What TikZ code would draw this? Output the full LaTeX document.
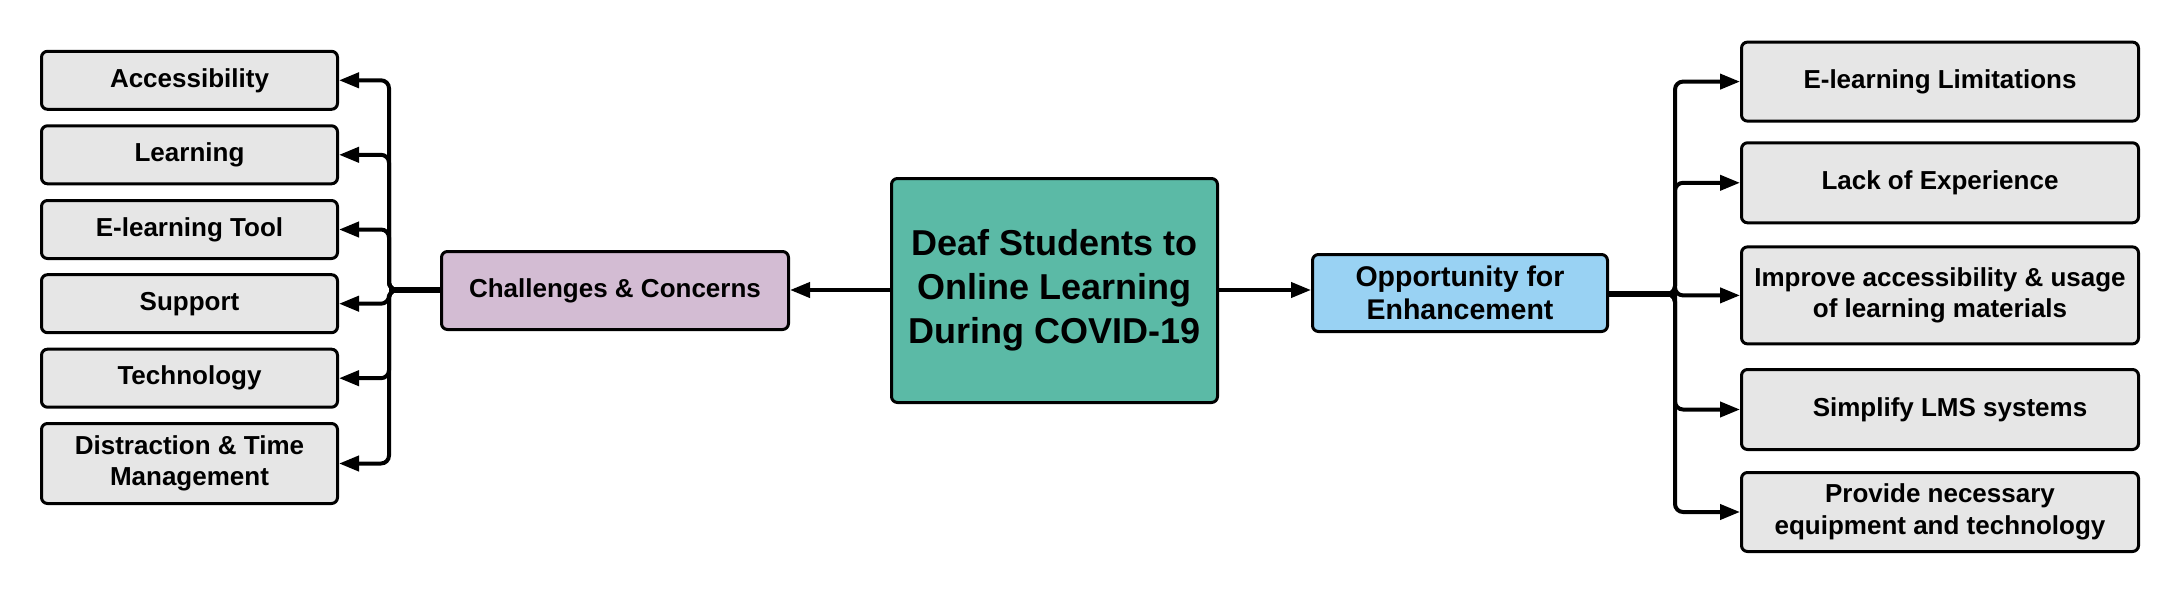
\documentclass[tikz,border=0pt]{standalone}
\usepackage{fontspec}
\setmainfont{Liberation Sans}
\usetikzlibrary{arrows.meta}
\definecolor{boxgray}{RGB}{230,230,230}
\definecolor{lilac}{RGB}{211,188,211}
\definecolor{teal}{RGB}{91,186,166}
\definecolor{skyb}{RGB}{153,210,243}
\begin{document}
\begin{tikzpicture}[x=1pt,y=-1pt,
  box/.style={draw=black, line width=3pt, rounded corners=6pt, fill=boxgray, align=center,
    inner sep=0pt, font=\fontsize{26}{31.5}\selectfont\bfseries},
  conn/.style={line width=4pt, rounded corners=8pt, -{Triangle[length=20pt,width=15pt]}},
  stub/.style={line width=5.5pt}
]
\useasboundingbox (0,0) rectangle (2181,599);
% left boxes
\node[box, minimum width=296pt, minimum height=58pt] (acc) at (189.5,80.3) {Accessibility};
\node[box, minimum width=296pt, minimum height=58pt] (lea) at (189.5,154.8) {Learning};
\node[box, minimum width=296pt, minimum height=58pt] (elt) at (189.5,229.5) {E-learning Tool};
\node[box, minimum width=296pt, minimum height=58pt] (sup) at (189.5,303.7) {Support};
\node[box, minimum width=296pt, minimum height=58pt] (tec) at (189.5,378.2) {Technology};
\node[box, minimum width=296pt, minimum height=80pt] (dis) at (189.5,463.5) {Distraction \& Time\\Management};
% middle
\node[box, fill=lilac, minimum width=347pt, minimum height=78pt] (chal) at (615,290.5) {Challenges \& Concerns};
\node[box, fill=teal, minimum width=326pt, minimum height=224pt, font=\fontsize{36}{44}\selectfont\bfseries] (cen) at (1054.5,290.5) {Deaf Students to\\Online Learning\\During COVID-19};
\node[box, fill=skyb, minimum width=295pt, minimum height=77pt, font=\fontsize{28.5}{33}\selectfont\bfseries] (opp) at (1460,293) {Opportunity for\\Enhancement};
% right boxes
\node[box, minimum width=397pt, minimum height=79pt] (lim) at (1940,81.6) {E-learning Limitations};
\node[box, minimum width=397pt, minimum height=80pt] (lack) at (1940,182.8) {Lack of Experience};
\node[box, minimum width=397pt, minimum height=97pt] (imp) at (1940,295.4) {Improve accessibility \& usage\\of learning materials};
\node[box, minimum width=397pt, minimum height=80pt] (sim) at (1940,409.5) {\hspace*{20pt}Simplify LMS systems};
\node[box, minimum width=397pt, minimum height=79pt] (pro) at (1940,512) {Provide necessary\\equipment and technology};
% junctions
\coordinate (lt) at (389,290);
\coordinate (rt) at (1675,294);
% central arrows
\draw[conn] (cen.west |- 0,290) -- (chal.east |- 0,290);
\draw[conn] (cen.east |- 0,290) -- (opp.west |- 0,290);
% left branches
\foreach \t in {acc,lea,elt,sup,tec,dis}{
  \draw[conn] (chal.west |- lt) -- (lt) |- (\t.east);
}
\draw[stub] (chal.west |- lt) -- (lt);
% right branches
\foreach \t in {lim,lack,imp,sim,pro}{
  \draw[conn] (opp.east |- rt) -- (rt) |- (\t.west);
}
\draw[stub] (opp.east |- rt) -- (rt);
\end{tikzpicture}
\end{document}
